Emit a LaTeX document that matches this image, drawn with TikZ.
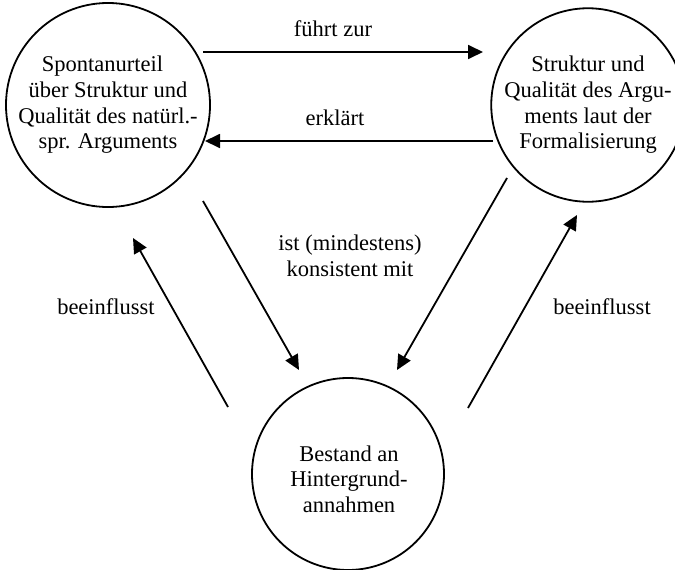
\documentclass[tikz,border=0pt]{standalone}
\usepackage{fontspec}
\setmainfont{Liberation Serif}
\usetikzlibrary{arrows.meta}
\begin{document}
\begin{tikzpicture}[x=1pt,y=-1pt,
  circ/.style={circle,draw,line width=1.8pt,minimum size=192pt,inner sep=0pt,align=center,font=\fontsize{22.5}{25.7}\selectfont},
  arr/.style={line width=1.8pt,-{Triangle[length=15pt,width=14pt]}},
  lbl/.style={font=\fontsize{22.5}{25.7}\selectfont,align=center,inner sep=0pt}]
\useasboundingbox (0,0) rectangle (675,570);
\clip (0,0) rectangle (675,570);
\node[circ] (L) at (108,105) {Spontanurteil\hspace*{11pt}\\über Struktur und\\Qualität des natürl.-\\spr. Arguments};
\node[circ] (R) at (588,105) {Struktur und\\Qualität des Argu-\\ments laut der\\Formalisierung};
\node[circ] (B) at (348,474) {};
\node[lbl] (Bt) at (349,479) {Bestand an\\Hintergrund-\\annahmen};
\coordinate (f1) at (203,52);  \coordinate (f2) at (483,52);
\coordinate (e1) at (493,141); \coordinate (e2) at (205,141);
\coordinate (k1) at (203,201); \coordinate (k2) at (299,370);
\coordinate (m1) at (507,178); \coordinate (m2) at (397,370);
\coordinate (b1) at (228,407); \coordinate (b2) at (133,238);
\coordinate (c1) at (468,408); \coordinate (c2) at (577,215);
\draw[arr] (f1) -- (f2);
\draw[arr] (e1) -- (e2);
\draw[arr] (k1) -- (k2);
\draw[arr] (m1) -- (m2);
\draw[arr] (b1) -- (b2);
\draw[arr] (c1) -- (c2);
\node[lbl] (t1) at (333,29) {führt zur};
\node[lbl] (t2) at (335,118) {erklärt};
\node[lbl] (t3) at (350,256) {ist (mindestens)\\konsistent mit};
\node[lbl] (t4) at (106,307) {beeinflusst};
\node[lbl] (t5) at (602,307) {beeinflusst};
\end{tikzpicture}
\end{document}
